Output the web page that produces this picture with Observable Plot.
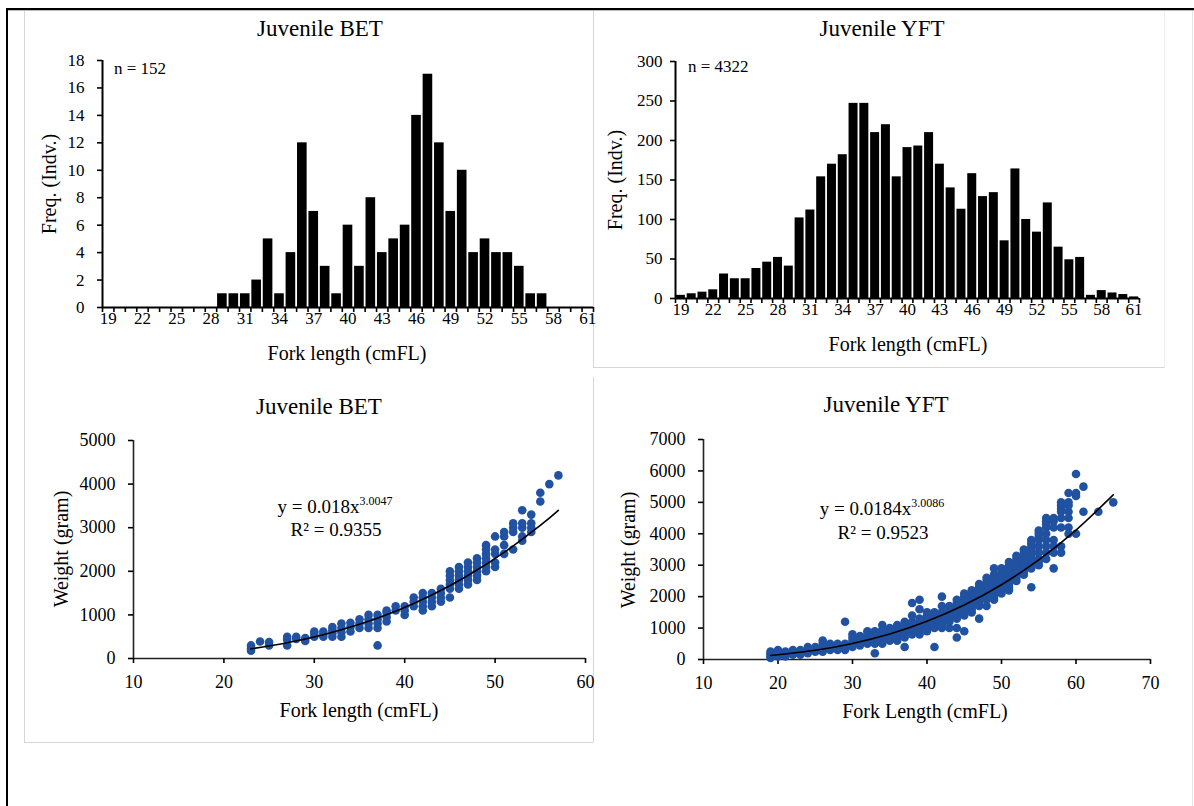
<!DOCTYPE html>
<html><head><meta charset="utf-8">
<script src="https://cdn.jsdelivr.net/npm/d3@7"></script>
<script src="https://cdn.jsdelivr.net/npm/@observablehq/plot@0.6"></script>
<style>
body{margin:0;background:#fff;}
#wrap{position:relative;width:1194px;height:806px;overflow:hidden;background:#fff;font-family:"Liberation Serif","Times New Roman",serif;color:#000;}
.abs{position:absolute;}
.t{position:absolute;white-space:nowrap;transform:translate(-50%,-50%);line-height:1;}
.rot{transform:translate(-50%,-50%) rotate(-90deg);}
.title{font-size:23px;}
.lab{font-size:20px;}
.eq{font-size:19px;}
.eq sup{font-size:12px;vertical-align:0;position:relative;top:-8px;}
.chart{position:absolute;}
</style></head><body>
<div id="wrap">
  <div class="abs" style="left:6px;top:8px;width:1300px;height:900px;border-top:2px solid #000;border-left:2px solid #000;"></div>
  <div class="abs" style="left:8px;top:10px;width:1300px;height:0;border-top:1px solid #bbb;"></div>
  <div class="abs" style="left:24px;top:11px;width:0;height:731px;border-left:1.5px solid #d6d6d6;"></div>
  <div class="abs" style="left:24px;top:742px;width:569px;height:0;border-top:1.5px solid #d6d6d6;"></div>
  <div class="abs" style="left:593px;top:377px;width:0;height:365px;border-left:1.5px solid #d6d6d6;"></div>
  <div class="abs" style="left:593px;top:11px;width:570px;height:356px;border-left:1.5px solid #d6d6d6;border-bottom:1.5px solid #d6d6d6;border-right:1px solid #efefef;"></div>
  <div class="abs" style="left:1192px;top:11px;width:0;height:800px;border-left:1px solid #e4e4e4;"></div>

  <div id="c1" class="chart" style="left:24px;top:40px;width:569px;height:330px;"></div>
  <div id="c2" class="chart" style="left:594px;top:40px;width:569px;height:327px;"></div>
  <div id="c3" class="chart" style="left:24px;top:385px;width:569px;height:357px;"></div>
  <div id="c4" class="chart" style="left:600px;top:385px;width:594px;height:357px;"></div>

  <div class="t title" style="left:320px;top:28px;">Juvenile BET</div>
  <div class="t title" style="left:882px;top:28px;">Juvenile YFT</div>
  <div class="t lab rot" style="left:49px;top:184px;">Freq. (Indv.)</div>
  <div class="t lab rot" style="left:615px;top:180px;">Freq. (Indv.)</div>
  <div class="t lab" style="left:347px;top:353px;">Fork length (cmFL)</div>
  <div class="t lab" style="left:908px;top:344px;">Fork length (cmFL)</div>
  <div class="abs" style="left:114px;top:60px;font-size:17px;line-height:1;white-space:nowrap;">n = 152</div>
  <div class="abs" style="left:688px;top:58px;font-size:17px;line-height:1;white-space:nowrap;">n = 4322</div>

  <div class="t title" style="left:319px;top:406px;">Juvenile BET</div>
  <div class="t title" style="left:886px;top:404px;">Juvenile YFT</div>
  <div class="t lab rot" style="left:61px;top:549px;">Weight (gram)</div>
  <div class="t lab rot" style="left:628px;top:550px;">Weight (gram)</div>
  <div class="t lab" style="left:359px;top:710px;">Fork length (cmFL)</div>
  <div class="t lab" style="left:925px;top:711px;">Fork Length (cmFL)</div>
  <div class="t eq" style="left:335px;top:506px;">y = 0.018x<sup>3.0047</sup></div>
  <div class="t eq" style="left:336px;top:529px;">R² = 0.9355</div>
  <div class="t eq" style="left:882px;top:508px;">y = 0.0184x<sup>3.0086</sup></div>
  <div class="t eq" style="left:883px;top:532px;">R² = 0.9523</div>
</div>
<script>
const FONT = '"Liberation Serif","Times New Roman",serif';
const BLUE = "#2152a2";

// ---- Length-frequency histograms ----
const lengths = [19,20,21,22,23,24,25,26,27,28,29,30,31,32,33,34,35,36,37,38,39,40,41,42,43,44,45,46,47,48,49,50,51,52,53,54,55,56,57,58,59,60,61];
const histTickLabels = [19,22,25,28,31,34,37,40,43,46,49,52,55,58,61];
const betFreq = [0,0,0,0,0,0,0,0,0,0,1,1,1,2,5,1,4,12,7,3,1,6,3,8,4,5,6,14,17,12,7,10,4,5,4,4,3,1,1,0,0,0,0];
const yftFreq = [4,6,8,11,31,25,25,38,46,52,41,102,112,154,170,182,247,247,210,220,154,191,193,210,170,140,113,158,129,134,73,164,100,84,121,65,49,52,4,10,7,5,2];
const betFreqTicks = [0,2,4,6,8,10,12,14,16,18];
const yftFreqTicks = [0,50,100,150,200,250,300];

// ---- Length-weight scatter ----
const betWeightByLength = [
  [23,[180,230,300]],[24,[390]],[25,[300,380]],[27,[300,430,500]],[28,[450,500]],[29,[400,470]],
  [30,[500,560,620]],[31,[500,560,620]],[32,[500,580,650,720]],[33,[500,600,700,800]],
  [34,[620,720,820]],[35,[700,800,900]],[36,[700,800,900,1000]],[37,[300,700,800,900,1000]],
  [38,[850,950,1050,1100]],[39,[1100,1200]],[40,[1000,1100,1200]],[41,[1200,1300,1400]],
  [42,[1100,1200,1300,1400,1500]],[43,[1200,1300,1400,1500]],[44,[1300,1400,1500,1600]],
  [45,[1400,1600,1700,1800,1900,2000]],[46,[1600,1700,1800,1900,2000,2100]],
  [47,[1700,1800,1900,2000,2100,2200]],[48,[1800,1900,2000,2100,2200,2300]],
  [49,[2000,2100,2200,2300,2400,2500,2600]],[50,[2100,2200,2400,2500,2800]],
  [51,[2400,2600,2800,2900]],[52,[2500,2900,3000,3100]],[53,[2700,2800,3000,3100,3400]],
  [54,[2900,3000,3100,3300]],[55,[3600,3800]],[56,[4000]],[57,[4200]]
];
const yftWeightByLength = [
  [19,[50,100,150,200,250]],[20,[100,150,200,300]],[21,[100,150,200,250]],[22,[150,200,250,300]],
  [23,[150,200,250,300]],[24,[200,250,300,400]],[25,[250,300,350,400]],[26,[250,300,400,500,600]],
  [27,[300,350,400,500]],[28,[300,400,450,500]],[29,[300,400,500,1200]],[30,[400,500,600,700,800]],
  [31,[450,550,650,750]],[32,[500,600,700,800,900]],[33,[200,500,600,700,800,900]],
  [34,[500,650,750,850,950,1100]],[35,[600,700,800,900,1000]],[36,[600,700,800,900,1000,1100]],
  [37,[400,700,800,900,1000,1100,1200]],[38,[800,900,1000,1100,1200,1400,1800]],
  [39,[800,900,1000,1100,1200,1300,1600,1900]],[40,[900,1000,1100,1200,1300,1400,1500]],
  [41,[400,1000,1100,1200,1300,1400,1500]],[42,[1000,1100,1200,1300,1400,1500,1700,2000]],
  [43,[1000,1200,1300,1400,1500,1600,1700]],[44,[700,1000,1300,1400,1500,1600,1700,1800,1900]],
  [45,[900,1400,1500,1600,1700,1800,1900,2000,2100]],[46,[1500,1600,1700,1800,1900,2000,2100,2200]],
  [47,[1300,1700,1800,1900,2000,2100,2200,2300,2400]],[48,[1700,1900,2000,2100,2200,2300,2400,2500,2600]],
  [49,[1900,2000,2100,2200,2300,2400,2500,2600,2700,2900]],[50,[2100,2200,2300,2400,2500,2600,2700,2800,2900]],
  [51,[2200,2300,2400,2500,2600,2700,2800,2900,3000,3100]],[52,[2500,2600,2700,2800,2900,3000,3100,3200,3300]],
  [53,[2700,2800,2900,3000,3100,3200,3300,3400,3500]],[54,[2300,2900,3000,3100,3200,3300,3400,3500,3600,3700,3800]],
  [55,[3000,3100,3200,3400,3600,3800,3900,4000,4100]],[56,[3200,3400,3600,3800,4000,4200,4300,4400,4500]],
  [57,[2900,3400,3600,3800,4200,4400,4500]],[58,[3400,3600,4200,4500,4700,4800,4900,5000]],
  [59,[4000,4200,4500,4700,4900,5000,5300]],[60,[4000,5200,5300,5900]],[61,[4700,5500]],[63,[4700]],[65,[5000]]
];
// power trend lines
const betCurveLen = [23,27,31,35,39,43,47,51,55,57];
const betCurveWt  = [222,360,545,785,1086,1457,1903,2432,3052,3397];
const yftCurveLen = [19,25,30,35,40,45,50,55,60,65];
const yftCurveWt  = [129,296,512,813,1216,1733,2379,3169,4117,5238];
const betXTicks = [10,20,30,40,50,60];
const betYTicks = [0,1000,2000,3000,4000,5000];
const yftXTicks = [10,20,30,40,50,60,70];
const yftYTicks = [0,1000,2000,3000,4000,5000,6000,7000];

const baseStyle = {fontFamily: FONT, fontSize: "17px", color: "#000", background: "transparent", overflow: "visible"};
const plain = d => String(d);

function hist(freq, yTicks, yMax, pad, dims) {
  const data = lengths.map((len, i) => ({len, count: freq[i]}));
  const bounds = [lengths[0] - 0.5, ...lengths.map(d => d + 0.5)];
  return Plot.plot({
    ...dims,
    style: baseStyle,
    x: {domain: [lengths[0] - 0.5, lengths[lengths.length - 1] + 0.5]},
    y: {domain: [0, yMax]},
    marks: [
      Plot.rectY(data, {x1: d => d.len - 0.5, x2: d => d.len + 0.5, y: "count", fill: "#000", insetLeft: 0.9, insetRight: 0.9}),
      Plot.axisY({ticks: yTicks, tickSize: 5, tickPadding: pad, label: null, fontSize: 17, strokeWidth: 1.6, tickFormat: plain}),
      Plot.axisX({ticks: bounds, tickSize: 5, tickFormat: () => "", label: null, strokeWidth: 1.6}),
      Plot.axisX({ticks: histTickLabels, tickSize: 0, tickPadding: 4, label: null, fontSize: 17, tickFormat: plain}),
      Plot.ruleY([0], {strokeWidth: 2}),
      Plot.ruleX([lengths[0] - 0.5], {strokeWidth: 2})
    ]
  });
}

function scatter(groups, cLen, cWt, xTicks, yTicks, dims) {
  const pts = groups.flatMap(([len, ws]) => ws.map(w => ({len, w})));
  const curve = cLen.map((l, i) => ({l, w: cWt[i]}));
  return Plot.plot({
    ...dims,
    style: baseStyle,
    x: {domain: [xTicks[0], xTicks[xTicks.length - 1]]},
    y: {domain: [yTicks[0], yTicks[yTicks.length - 1]]},
    marks: [
      Plot.ruleY([yTicks[0]], {stroke: "#222", strokeWidth: 1.6}),
      Plot.ruleX([xTicks[0]], {stroke: "#222", strokeWidth: 1.6}),
      Plot.axisX({ticks: xTicks, tickSize: 5, tickPadding: 12, label: null, fontSize: 18, strokeWidth: 1.6, tickFormat: plain}),
      Plot.axisY({ticks: yTicks, tickSize: 5, tickPadding: 13, label: null, fontSize: 18, strokeWidth: 1.6, tickFormat: plain}),
      Plot.dot(pts, {x: "len", y: "w", r: 4.3, fill: BLUE}),
      Plot.line(curve, {x: "l", y: "w", stroke: "#000", strokeWidth: 1.6, curve: "natural"})
    ]
  });
}

document.getElementById("c1").append(hist(betFreq, betFreqTicks, 18, 13,
  {width: 569, height: 330, marginLeft: 78, marginRight: 0, marginTop: 20, marginBottom: 63}));
document.getElementById("c2").append(hist(yftFreq, yftFreqTicks, 300, 8,
  {width: 569, height: 327, marginLeft: 81, marginRight: 24, marginTop: 21, marginBottom: 69}));
document.getElementById("c3").append(scatter(betWeightByLength, betCurveLen, betCurveWt, betXTicks, betYTicks,
  {width: 569, height: 357, marginLeft: 109, marginRight: 8, marginTop: 55, marginBottom: 84}));
document.getElementById("c4").append(scatter(yftWeightByLength, yftCurveLen, yftCurveWt, yftXTicks, yftYTicks,
  {width: 594, height: 357, marginLeft: 103, marginRight: 44, marginTop: 54, marginBottom: 83}));
</script>
</body></html>
